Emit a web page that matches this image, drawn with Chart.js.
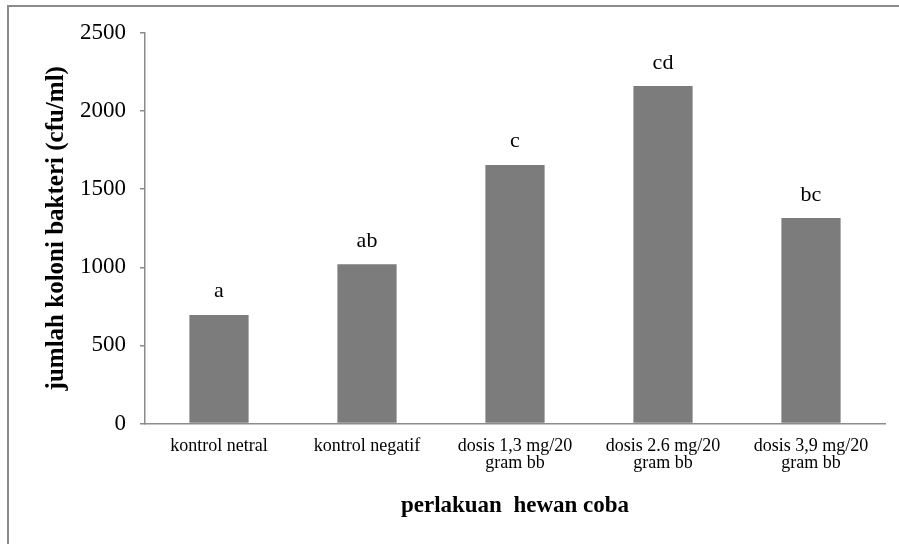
<!DOCTYPE html>
<html>
<head>
<meta charset="utf-8">
<script src="https://cdn.jsdelivr.net/npm/chart.js@4"></script>
<style>
  html, body { margin: 0; padding: 0; background: #fff; }
  #wrap { width: 899px; height: 544px; position: relative; }
</style>
</head>
<body>
<div id="wrap"><canvas id="c" width="899" height="544"></canvas></div>
<script>
const categories = [
  'kontrol netral',
  'kontrol negatif',
  ['dosis 1,3 mg/20', 'gram bb'],
  ['dosis 2.6 mg/20', 'gram bb'],
  ['dosis 3,9 mg/20', 'gram bb']
];
const colonyCounts = [695, 1020, 1655, 2160, 1315];
const significanceLetters = ['a', 'ab', 'c', 'cd', 'bc'];
const yTicks = [0, 500, 1000, 1500, 2000, 2500];
const yTitle = 'jumlah koloni bakteri (cfu/ml)';
const xTitle = 'perlakuan  hewan coba';

const SERIF = '"Liberation Serif", "Times New Roman", serif';

const framePlugin = {
  id: 'frame',
  beforeDraw(chart) {
    const ctx = chart.ctx;
    ctx.save();
    ctx.fillStyle = '#ffffff';
    ctx.fillRect(0, 0, chart.width, chart.height);
    ctx.strokeStyle = '#8a8a8a';
    ctx.lineWidth = 2;
    ctx.beginPath();
    ctx.moveTo(8, chart.height);
    ctx.lineTo(8, 6);
    ctx.lineTo(chart.width, 6);
    ctx.stroke();
    ctx.restore();
  }
};

const letterPlugin = {
  id: 'letters',
  afterDatasetsDraw(chart) {
    const ctx = chart.ctx;
    const meta = chart.getDatasetMeta(0);
    ctx.save();
    ctx.fillStyle = '#000';
    ctx.font = '22px ' + SERIF;
    ctx.textAlign = 'center';
    ctx.textBaseline = 'alphabetic';
    meta.data.forEach((bar, i) => {
      ctx.fillText(significanceLetters[i], bar.x, bar.y - 17.5);
    });
    ctx.restore();
  }
};

new Chart(document.getElementById('c'), {
  type: 'bar',
  data: {
    labels: categories,
    datasets: [{
      data: colonyCounts,
      backgroundColor: '#7c7c7c',
      borderWidth: 0,
      barPercentage: 0.4,
      categoryPercentage: 1.0
    }]
  },
  options: {
    responsive: false,
    animation: false,
    devicePixelRatio: 1,
    layout: { padding: { left: 0, right: 14, top: 33, bottom: 0 } },
    plugins: {
      legend: { display: false },
      tooltip: { enabled: false }
    },
    scales: {
      x: {
        grid: { display: false, drawTicks: false },
        border: { display: true, color: '#8c8c8c', width: 1.5 },
        ticks: {
          color: '#000',
          font: { family: SERIF, size: 18, lineHeight: 0.95 },
          padding: 14,
          maxRotation: 0,
          autoSkip: false
        },
        title: {
          display: true,
          text: xTitle,
          color: '#000',
          font: { family: SERIF, size: 23, weight: 'bold' },
          padding: { top: 0, bottom: 24 }
        },
        afterFit(scale) { scale.height = 120.5; }
      },
      y: {
        min: 0,
        max: 2500,
        afterBuildTicks(scale) { scale.ticks = yTicks.map(v => ({ value: v })); },
        grid: { drawOnChartArea: false, drawTicks: true, tickLength: 5, color: '#8c8c8c', lineWidth: 1.5 },
        border: { display: true, color: '#8c8c8c', width: 1.5 },
        ticks: {
          color: '#000',
          font: { family: SERIF, size: 23 },
          padding: 14,
          callback: (v) => String(v)
        },
        title: {
          display: true,
          text: yTitle,
          color: '#000',
          font: { family: SERIF, size: 25, weight: 'bold' },
          padding: { top: 42, bottom: 0 }
        },
        afterFit(scale) { scale.width = 145; }
      }
    }
  },
  plugins: [framePlugin, letterPlugin]
});
</script>
</body>
</html>
